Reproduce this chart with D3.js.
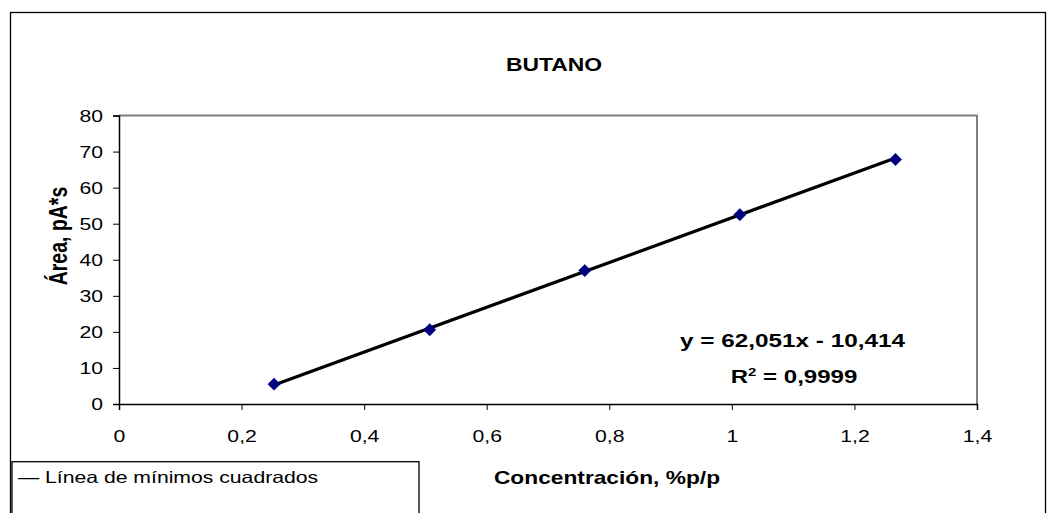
<!DOCTYPE html>
<html><head><meta charset="utf-8">
<script src="https://cdn.jsdelivr.net/npm/d3@7"></script>
<style>
html,body{margin:0;padding:0;background:#fff;}
svg{display:block;font-family:"Liberation Sans",Arial,sans-serif;}
</style></head>
<body>
<svg id="chart" width="1047" height="513"></svg>
<script>
const concentrations = [0.253, 0.507, 0.760, 1.013, 1.267];
const areas = [5.5, 20.6, 37.0, 52.5, 67.8];
const xTicks = [0, 0.2, 0.4, 0.6, 0.8, 1, 1.2, 1.4];
const yTicks = [0, 10, 20, 30, 40, 50, 60, 70, 80];
const slope = 62.051, intercept = -10.414, r2 = 0.9999;
const title = "BUTANO";
const xTitle = "Concentración, %p/p";
const yTitle = "Área, pA*s";
const legendLabel = "Línea de mínimos cuadrados";

const SX = 1.3; // horizontal stretch of the reference's lettering
const FF = "'Liberation Sans',Arial,sans-serif";
const svg = d3.select("#chart");
const fmt = v => String(v).replace(".", ",");

function label(x, y, txt, size, opts = {}) {
  const t = svg.append("text")
    .attr("transform", `translate(${x},${y}) scale(${SX},1)` + (opts.rotate ? ` rotate(${opts.rotate})` : ""))
    .attr("text-anchor", opts.anchor || "middle")
    .attr("font-family", FF).attr("font-size", size)
    .attr("font-weight", opts.bold ? "bold" : "normal").attr("fill", "#000");
  if (txt !== null) t.text(txt);
  return t;
}

// outer chart border
svg.append("rect").attr("x",10.5).attr("y",12.5).attr("width",1035).attr("height",520)
  .attr("fill","#fff").attr("stroke","#000").attr("stroke-width",1.3);

const L = 119, R = 977, T = 115.5, B = 404;
const x = d3.scaleLinear().domain([0,1.4]).range([L,R]);
const y = d3.scaleLinear().domain([0,80]).range([B,T]);

// plot area border (gray top/right)
svg.append("path").attr("d",`M${L},${T}H${R}V${B}`).attr("fill","none")
  .attr("stroke","#808080").attr("stroke-width",2);

const xAxis = svg.append("g").attr("transform",`translate(0,${B})`)
  .call(d3.axisBottom(x).tickValues(xTicks).tickFormat(fmt).tickSize(6));
const yAxis = svg.append("g").attr("transform",`translate(${L},0)`)
  .call(d3.axisLeft(y).tickValues(yTicks).tickSize(6));
[xAxis,yAxis].forEach(g=>{
  g.select(".domain").attr("stroke","#000").attr("stroke-width",1.5);
  g.selectAll(".tick line").attr("stroke","#000").attr("stroke-width",1);
  g.selectAll(".tick text").attr("font-size",16.3).attr("fill","#000").attr("font-family",FF);
});
// place tick labels with the horizontal stretch
xAxis.selectAll(".tick text").attr("x",0).attr("y",0).attr("dy","0.71em")
  .attr("transform",`translate(0,26) scale(${SX},1)`);
yAxis.selectAll(".tick text").attr("x",0).attr("dy","0.35em")
  .attr("transform",`translate(-16,0) scale(${SX},1)`);

// trend line
const x0 = d3.min(concentrations), x1 = d3.max(concentrations);
svg.append("line")
  .attr("x1",x(x0)).attr("y1",y(slope*x0+intercept))
  .attr("x2",x(x1)).attr("y2",y(slope*x1+intercept))
  .attr("stroke","#000").attr("stroke-width",3.2);

// points
svg.append("g").selectAll("path").data(concentrations).join("path")
  .attr("d", d3.symbol().type(d3.symbolSquare).size(76))
  .attr("transform",(d,i)=>`translate(${x(d)},${y(areas[i])}) rotate(45)`)
  .attr("fill","#000080").attr("stroke","#000080").attr("stroke-width",0.5);

// title
label(554, 71, title, 17.6, {bold:true});

// axis titles
label(607, 484, xTitle, 17.5, {bold:true});
label(67, 236, yTitle, 19.5, {bold:true, rotate:-90});

// equation
label(792.5, 346.5, `y = ${fmt(slope)}x - ${fmt(Math.abs(intercept))}`, 18.7, {bold:true});
const r2t = label(794, 383, null, 18.5, {bold:true});
r2t.append("tspan").text("R");
r2t.append("tspan").attr("font-size",11.5).attr("dy",-7.5).text("2");
r2t.append("tspan").attr("dy",7.5).text(" = " + fmt(r2));

// legend
svg.append("rect").attr("x",12).attr("y",461.7).attr("width",407).attr("height",60)
  .attr("fill","#fff").attr("stroke","#000").attr("stroke-width",1.3);
label(18, 483, "— " + legendLabel, 16.3, {anchor:"start"});
</script>
</body></html>
